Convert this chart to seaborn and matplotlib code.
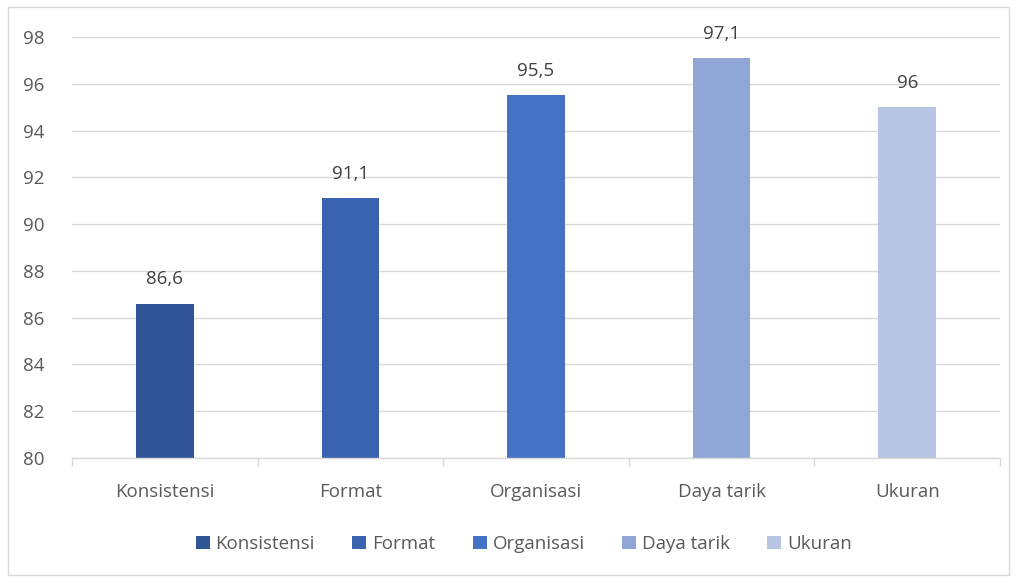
import matplotlib
matplotlib.use("Agg")
import matplotlib.pyplot as plt
import seaborn as sns
import pandas as pd
from matplotlib.patches import Patch, Rectangle

categories = ["Konsistensi", "Format", "Organisasi", "Daya tarik", "Ukuran"]
values = [86.6, 91.1, 95.5, 97.1, 95.0]
labels = ["86,6", "91,1", "95,5", "97,1", "96"]
colors = ["#2F5597", "#3A63AF", "#4472C4", "#8FA6D7", "#B7C4E3"]
yticks = [80, 82, 84, 86, 88, 90, 92, 94, 96, 98]

sns.set_theme(style="white")
plt.rcParams['font.family'] = ['Open Sans', 'DejaVu Sans']

df = pd.DataFrame({"cat": categories, "val": values})

fig = plt.figure(figsize=(10.17, 5.79), dpi=100)
ax = fig.add_axes([72/1017, 1 - 458/579, (1000-72)/1017, (458-37)/579])
sns.barplot(data=df, x="cat", y="val", hue="cat", palette=colors, dodge=False,
            width=0.31, legend=False, ax=ax, saturation=1, linewidth=0)

FS = 13.5
ax.set_ylim(80, 98)
ax.set_xlim(-0.5, 4.5)
ax.set_yticks(yticks)
ax.set_yticklabels([str(t) for t in yticks], fontsize=FS, color="#595959")
ax.grid(axis="y", color="#D9D9D9", linewidth=1)
ax.set_axisbelow(True)
ax.set_xlabel("")
ax.set_ylabel("")
for s in ["top", "right", "left"]:
    ax.spines[s].set_visible(False)
ax.spines["bottom"].set_color("#D9D9D9")
ax.spines["bottom"].set_linewidth(1)
ax.tick_params(axis="y", length=0, pad=20)
ax.set_xticks([0, 1, 2, 3, 4])
ax.set_xticklabels(categories, fontsize=FS, color="#595959")
ax.tick_params(axis="x", which="major", length=0, pad=18, bottom=True)
ax.set_xticks([-0.5, 0.5, 1.5, 2.5, 3.5, 4.5], minor=True)
ax.tick_params(axis="x", which="minor", bottom=True, length=6, color="#D9D9D9", width=1, direction="out")

for i, (v, lab) in enumerate(zip(values, labels)):
    ax.annotate(lab, (i, v), xytext=(0, 11), textcoords="offset points",
                ha="center", va="bottom", fontsize=FS, color="#404040")

handles = [Patch(facecolor=c, edgecolor="none", label=l) for c, l in zip(colors, categories)]
fig.legend(handles=handles, loc="center", bbox_to_anchor=(0.515, 1 - 544/579), ncol=5,
           frameon=False, fontsize=FS, handlelength=0.75, handleheight=0.75,
           handletextpad=0.3, columnspacing=2.0, labelcolor="#595959")

fig.patches.append(Rectangle((8/1017, 4/579), (1009-8)/1017, (572-4)/579, transform=fig.transFigure,
                             fill=False, edgecolor="#D9D9D9", linewidth=1))

fig.savefig("out.png", dpi=100)
